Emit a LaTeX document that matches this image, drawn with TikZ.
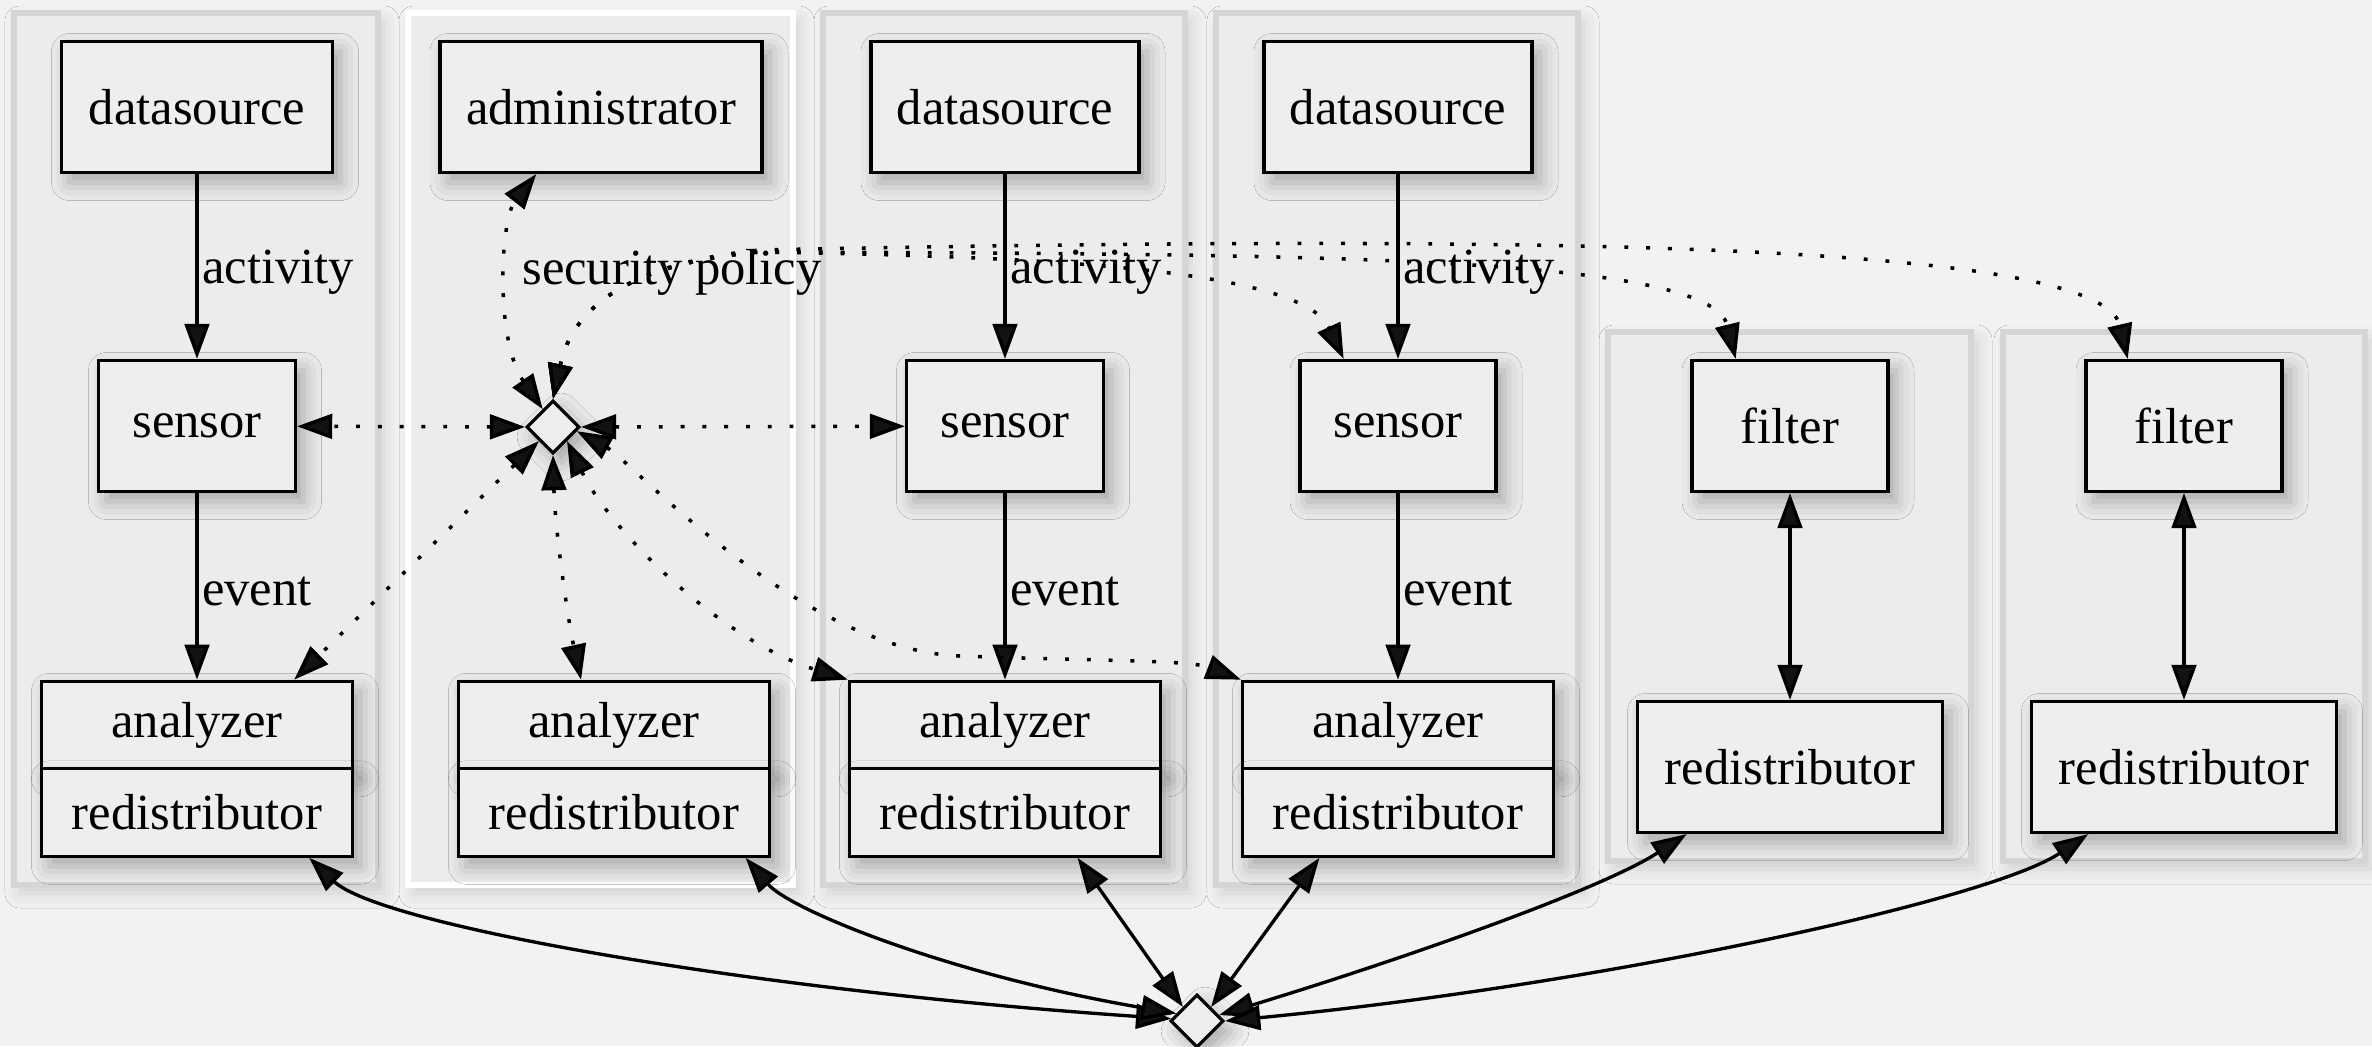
\documentclass[tikz,border=0pt]{standalone}
\usepackage{fontspec}
\setmainfont{Liberation Serif}
\usetikzlibrary{arrows.meta}
\usetikzlibrary{shapes.geometric}
\usetikzlibrary{shadows.blur}
\definecolor{paper}{RGB}{242, 242, 242}
\definecolor{clusterfill}{RGB}{236, 236, 236}
\definecolor{clusterline}{RGB}{213, 213, 213}
\definecolor{boxfill}{RGB}{238, 238, 238}

\tikzset{
  tip/.style={-{Triangle[length=10pt,width=7pt]}},
  both/.style={{Triangle[length=10pt,width=7pt]}-{Triangle[length=10pt,width=7pt]}},
  soft/.style={blur shadow={shadow xshift=0.8mm, shadow yshift=-1mm, shadow blur radius=1.8mm, shadow opacity=30}},
  comp/.style={draw, line width=0.9pt, fill=boxfill, inner sep=0pt, minimum height=1.31cm,
    font=\fontsize{14.4}{17}\selectfont, soft},
  half/.style={comp, minimum height=0.875cm, minimum width=3.11cm},
  hub/.style={diamond, draw, line width=0.9pt, fill=boxfill, inner sep=0pt,
    minimum width=0.53cm, minimum height=0.53cm, soft},
  cluster/.style={draw=clusterline, line width=1.5pt, fill=clusterfill,
    blur shadow={shadow xshift=0.6mm, shadow yshift=-0.8mm, shadow blur radius=1.5mm, shadow opacity=14}},
  lbl/.style={font=\fontsize{14.4}{17}\selectfont, inner sep=1pt},
  flow/.style={line width=0.95pt},
  policy/.style={both, line width=1pt, dash pattern=on 1.1pt off 5.1pt},
}

\begin{document}
\begin{tikzpicture}[x=0.1mm, y=-0.1mm]
  \fill[paper] (0,0) rectangle (2372,1046);
  \useasboundingbox (0,0) rectangle (2372,1046);

  % clusters
  \draw[cluster] (14,13) rectangle (378,885);
  \draw[cluster, draw=white] (408,13) rectangle (793,885);
  \draw[cluster] (823,13) rectangle (1185,885);
  \draw[cluster] (1216,13) rectangle (1578,885);
  \draw[cluster] (1608,332) rectangle (1971,861);
  \draw[cluster] (2003,332) rectangle (2365,861);

  % top row
  \node[comp, minimum width=2.71cm] (src1) at (197,107) {datasource};
  \node[comp, minimum width=3.22cm] (admin) at (601,107) {administrator};
  \node[comp, minimum width=2.68cm] (src2) at (1005,107) {datasource};
  \node[comp, minimum width=2.68cm] (src3) at (1398,107) {datasource};

  % middle row
  \node[comp, minimum width=1.97cm] (sen1) at (197,426) {sensor};
  \node[hub] (hubA) at (553,427) {};
  \node[comp, minimum width=1.97cm] (sen2) at (1005,426) {sensor};
  \node[comp, minimum width=1.96cm] (sen3) at (1398,426) {sensor};
  \node[comp, minimum width=1.96cm] (filt1) at (1790,426) {filter};
  \node[comp, minimum width=1.96cm] (filt2) at (2184,426) {filter};

  % analyzer / redistributor pairs
  \node[half] (ana1) at (197,725) {analyzer};
  \node[half] (red1) at (197,812.5) {redistributor};
  \node[half] (ana2) at (614,725) {analyzer};
  \node[half] (red2) at (614,812.5) {redistributor};
  \node[half] (ana3) at (1005,725) {analyzer};
  \node[half] (red3) at (1005,812.5) {redistributor};
  \node[half] (ana4) at (1398,725) {analyzer};
  \node[half] (red4) at (1398,812.5) {redistributor};
  \node[comp, minimum width=3.05cm] (red5) at (1790,767) {redistributor};
  \node[comp, minimum width=3.05cm] (red6) at (2184,767) {redistributor};

  \node[hub] (hubB) at (1197,1021) {};
  \node[lbl] (polLbl) at (672,272) {security policy};

  % data flow
  \foreach \s/\a in {1/1, 2/3, 3/4} {
    \draw[flow,tip] (src\s) -- node[lbl, anchor=west, pos=0.53] {activity} (sen\s);
    \draw[flow,tip] (sen\s) -- node[lbl, anchor=west, pos=0.53] {event} (ana\a);
  }
  \foreach \from/\to in {filt1/red5, filt2/red6}
    \draw[flow,both] (\from) -- (\to);

  % policy links
  \foreach \to in {sen1, sen2}
    \draw[policy] (hubA) -- (\to);
  \draw[policy] (hubA.120) .. controls (495,340) and (500,220) .. (admin.226);
  \draw[policy] (hubA.north) .. controls (570,320) and (610,265) .. (760,252)
    .. controls (1000,256) and (1300,265) .. (sen3.129);
  \draw[policy] (hubA.north) .. controls (570,320) and (610,265) .. (760,252)
    .. controls (1300,254) and (1710,255) .. (filt1.129);
  \draw[policy] (hubA.north) .. controls (570,320) and (610,265) .. (760,250)
    .. controls (1500,235) and (2100,240) .. (filt2.130);
  \draw[policy] (hubA.south west) -- (ana1.25);
  \draw[policy] (hubA.south) .. controls (555,530) and (568,620) .. (ana2.126);
  \draw[policy] (hubA.south east) .. controls (610,530) and (720,640) .. (ana3.north west);
  \draw[policy] (hubA.-10) .. controls (630,460) and (800,650) .. (960,656)
    .. controls (1100,661) and (1190,660) .. (ana4.north west);

  % redistribution
  \draw[flow,both] (red1.-22) .. controls (380,925) and (750,990) .. (hubB.175);
  \draw[flow,both] (red2.-19) .. controls (790,910) and (950,975) .. (hubB.160);
  \draw[flow,both] (red3.-32) -- (hubB.north west);
  \draw[flow,both] (red4.210) -- (hubB.north east);
  \draw[flow,both] (red5.213) .. controls (1600,890) and (1400,960) .. (hubB.15);
  \draw[flow,both] (red6.215) .. controls (1990,900) and (1600,985) .. (hubB.east);
\end{tikzpicture}
\end{document}
